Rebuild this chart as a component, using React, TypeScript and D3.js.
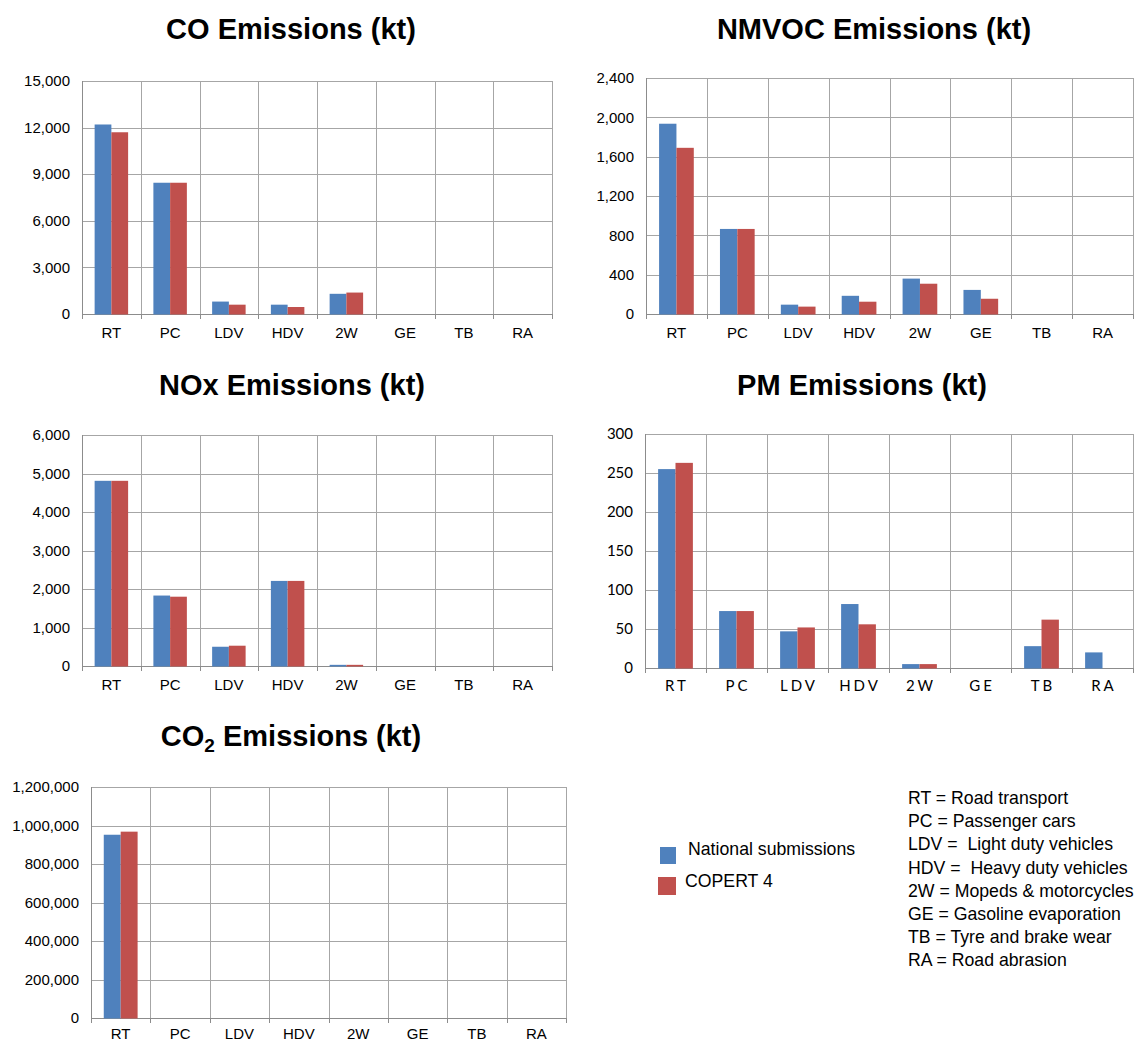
import React from "react";
import * as d3 from "d3";

const categories = ["RT", "PC", "LDV", "HDV", "2W", "GE", "TB", "RA"];
const seriesNames = ["National submissions", "COPERT 4"];
const seriesColors = ["#4F81BD", "#C0504D"];

const coNational = [12200, 8450, 800, 600, 1300, 0, 0, 0];
const coCopert = [11700, 8450, 600, 450, 1380, 0, 0, 0];
const coTicks = [0, 3000, 6000, 9000, 12000, 15000];

const nmvocNational = [1935, 865, 95, 185, 360, 245, 0, 0];
const nmvocCopert = [1690, 865, 75, 125, 308, 155, 0, 0];
const nmvocTicks = [0, 400, 800, 1200, 1600, 2000, 2400];

const noxNational = [4810, 1830, 500, 2210, 30, 0, 0, 0];
const noxCopert = [4810, 1800, 527, 2210, 30, 0, 0, 0];
const noxTicks = [0, 1000, 2000, 3000, 4000, 5000, 6000];

const pmNational = [255, 73, 47, 82, 5, 0, 28, 20];
const pmCopert = [263, 73, 52, 56, 5, 0, 62, 0];
const pmTicks = [0, 50, 100, 150, 200, 250, 300];

const co2National = [952000, 0, 0, 0, 0, 0, 0, 0];
const co2Copert = [968000, 0, 0, 0, 0, 0, 0, 0];
const co2Ticks = [0, 200000, 400000, 600000, 800000, 1000000, 1200000];

const abbreviations = [
  "RT = Road transport",
  "PC = Passenger cars",
  "LDV =  Light duty vehicles",
  "HDV =  Heavy duty vehicles",
  "2W = Mopeds & motorcycles",
  "GE = Gasoline evaporation",
  "TB = Tyre and brake wear",
  "RA = Road abrasion",
];

const ARIAL = "Liberation Sans, Arial, sans-serif";
const CALIBRI = "Lato, Open Sans, sans-serif";

type PanelProps = {
  x0: number;
  x1: number;
  y0: number;
  y1: number;
  a: number[];
  b: number[];
  ticks: number[];
  font: string;
  letterSpacing?: number;
  labelDy?: number;
};

function Panel({ x0, x1, y0, y1, a, b, ticks, font, letterSpacing = 0, labelDy = 24 }: PanelProps) {
  const x = d3.scaleBand<string>().domain(categories).range([x0, x1]).paddingInner(0).paddingOuter(0);
  const y = d3.scaleLinear().domain([0, ticks[ticks.length - 1]]).range([y1, y0]);
  const bw = x.bandwidth();
  const groupW = bw * 0.57;
  const fmt = d3.format(",");
  const grid = "#A6A6A6";
  const axis = "#8C8C8C";
  return (
    <g>
      {ticks.map((t) => (
        <line key={"h" + t} x1={x0} x2={x1} y1={Math.round(y(t)) + 0.5} y2={Math.round(y(t)) + 0.5} stroke={t === 0 ? axis : grid} strokeWidth={1} />
      ))}
      {categories.map((c) => (
        <line key={"v" + c} x1={Math.round(x(c)! + bw) + 0.5} x2={Math.round(x(c)! + bw) + 0.5} y1={y0} y2={y1} stroke={grid} strokeWidth={1} />
      ))}
      {categories.map((c, i) => {
        const sub = d3.scaleBand<number>().domain([0, 1]).range([x(c)! + bw / 2 - groupW / 2, x(c)! + bw / 2 + groupW / 2]);
        return (
          <g key={"b" + c}>
            {[a[i], b[i]].map((v, s) =>
              v > 0 ? (
                <rect key={s} x={sub(s)} y={y(v)} width={sub.bandwidth()} height={y1 + 0.5 - y(v)} fill={seriesColors[s]} />
              ) : null
            )}
          </g>
        );
      })}
      <line x1={Math.round(x0) + 0.5} x2={Math.round(x0) + 0.5} y1={y0} y2={y1 + 5} stroke={axis} />
      {categories.map((c) => (
        <line key={"t" + c} x1={Math.round(x(c)! + bw) + 0.5} x2={Math.round(x(c)! + bw) + 0.5} y1={y1} y2={y1 + 5} stroke={axis} />
      ))}
      {ticks.map((t) => (
        <text key={"yl" + t} x={x0 - 12} y={y(t)} dy="0.35em" textAnchor="end" fontFamily={font} fontSize={15} fill="#000">
          {fmt(t)}
        </text>
      ))}
      {categories.map((c) => (
        <text key={"xl" + c} x={x(c)! + bw / 2 + letterSpacing / 2} y={y1 + labelDy} textAnchor="middle" fontFamily={font} fontSize={15} letterSpacing={letterSpacing} fill="#000">
          {c}
        </text>
      ))}
    </g>
  );
}

function Title({ cx, y, children }: { cx: number; y: number; children: React.ReactNode }) {
  return (
    <text x={cx} y={y} textAnchor="middle" fontFamily={ARIAL} fontWeight="bold" fontSize={29} fill="#000">
      {children}
    </text>
  );
}

export default function App() {
  return (
    <svg width={1141} height={1043} style={{ position: "absolute", left: 0, top: 0, background: "#fff" }}>
      <rect x={0} y={0} width={1141} height={1043} fill="#fff" />
      <Title cx={291} y={39}>CO Emissions (kt)</Title>
      <Panel x0={82} x1={552} y0={81} y1={314} a={coNational} b={coCopert} ticks={coTicks} font={ARIAL} />

      <Title cx={874} y={39}>NMVOC Emissions (kt)</Title>
      <Panel x0={646} x1={1133} y0={78} y1={314} a={nmvocNational} b={nmvocCopert} ticks={nmvocTicks} font={ARIAL} />

      <Title cx={292} y={395}>NOx Emissions (kt)</Title>
      <Panel x0={82} x1={552} y0={435} y1={666} a={noxNational} b={noxCopert} ticks={noxTicks} font={ARIAL} />

      <Title cx={862} y={395}>PM Emissions (kt)</Title>
      <Panel x0={645} x1={1133} y0={434} y1={668} a={pmNational} b={pmCopert} ticks={pmTicks} font={CALIBRI} letterSpacing={3} labelDy={23} />

      <Title cx={291} y={746}>
        CO<tspan fontSize={19} dy={6}>2</tspan>
        <tspan dy={-6}> Emissions (kt)</tspan>
      </Title>
      <Panel x0={91} x1={566} y0={787} y1={1018} a={co2National} b={co2Copert} ticks={co2Ticks} font={ARIAL} labelDy={21} />

      <g>
        <rect x={660} y={847} width={16} height={17} fill={seriesColors[0]} />
        <text x={688} y={855} fontFamily={ARIAL} fontSize={17.7} fill="#000">{seriesNames[0]}</text>
        <rect x={658} y={877} width={18} height={18} fill={seriesColors[1]} />
        <text x={685} y={887} fontFamily={ARIAL} fontSize={17.7} fill="#000">{seriesNames[1]}</text>
      </g>
      <g>
        {abbreviations.map((s, i) => (
          <text key={s} x={908} y={804 + i * 23.2} fontFamily={ARIAL} fontSize={17.7} fill="#000" style={{ whiteSpace: "pre" }}>
            {s}
          </text>
        ))}
      </g>
    </svg>
  );
}
